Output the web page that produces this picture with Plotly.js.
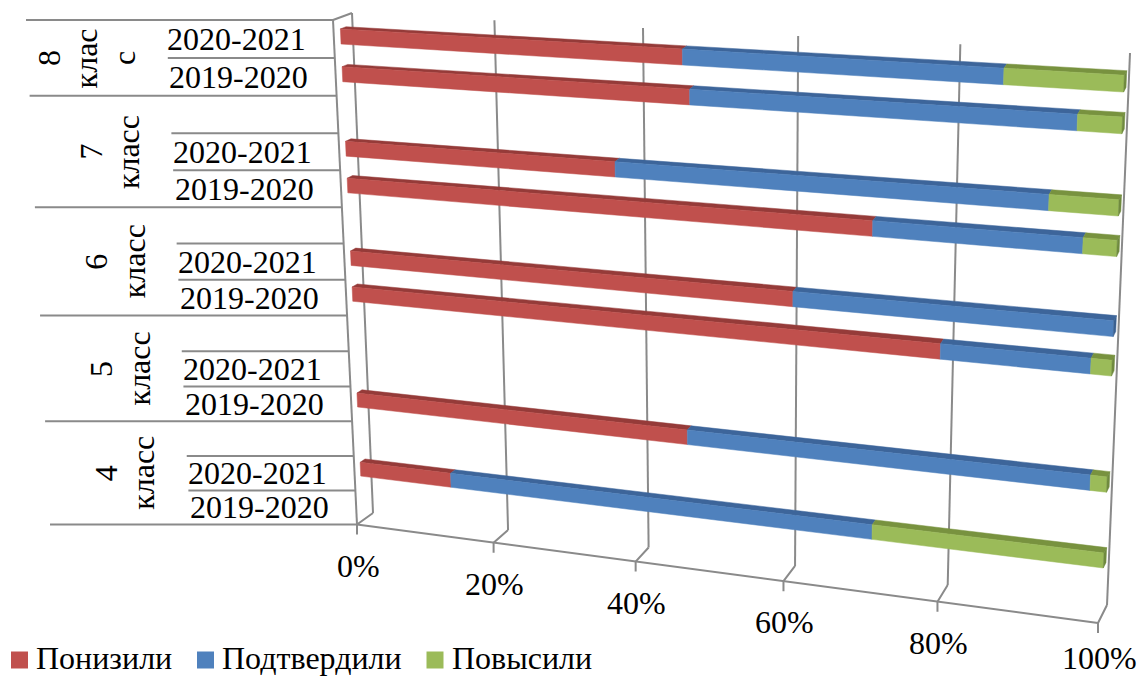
<!DOCTYPE html>
<html><head><meta charset="utf-8">
<script src="https://cdn.plot.ly/plotly-3.0.1.min.js"></script>
<style>html,body{margin:0;padding:0;background:#fff}</style>
</head><body><div id="chart" style="width:1139px;height:677px"></div>
<script>
// Data: rows run from the top of the category axis to the bottom
const classes = ['8 клас с', '7 класс', '6 класс', '5 класс', '4 класс'];
const classLines = [['8','клас','с'], ['7','класс'], ['6','класс'], ['5','класс'], ['4','класс']];
const classSizes = [2, 3, 3, 3, 3];
const rowLabels = ['2020-2021','2019-2020','','2020-2021','2019-2020','','2020-2021','2019-2020','','2020-2021','2019-2020','','2020-2021','2019-2020'];
const seriesNames = ['Понизили', 'Подтвердили', 'Повысили'];
const lowered   = [46.3, 47.2, null, 37.3, 70.5, null, 60.5, 79.2, null, null, 46.6, null, 13.3, null];
const confirmed = [39.7, 47.6, null, 54.5, 25.5, null, 39.5, 18.3, null, null, 51.4, null, 57.7, null];
const raised    = [14, 5.2, null, 8.2, 4, null, 0, 2.5, null, null, 2, null, 29, null];
const valueTicks = [0, 20, 40, 60, 80, 100];

const frontColors = ['#C0504D', '#4F81BD', '#9BBB59'];
const topColors   = ['#953B39', '#3D659A', '#78923F'];
const sideColors  = ['#8C3836', '#3A6090', '#6F8A3E'];
const axisColor = '#8A8A8A';
const FONT = 'Liberation Serif';
const FS = 32;

// perspective frame of the 3-D box, used as the scale
function quadMap(p) {
  const [p0,p1,p2,p3] = p;
  const dx1=p1[0]-p2[0], dx2=p3[0]-p2[0], sx=p0[0]-p1[0]+p2[0]-p3[0];
  const dy1=p1[1]-p2[1], dy2=p3[1]-p2[1], sy=p0[1]-p1[1]+p2[1]-p3[1];
  const den=dx1*dy2-dx2*dy1;
  const g=(sx*dy2-dx2*sy)/den, h=(dx1*sy-sx*dy1)/den;
  const a=p1[0]-p0[0]+g*p1[0], b=p3[0]-p0[0]+h*p3[0], c=p0[0];
  const d=p1[1]-p0[1]+g*p1[1], e=p3[1]-p0[1]+h*p3[1], f=p0[1];
  return (u,v)=>{const w=g*u+h*v+1;return [(a*u+b*v+c)/w,(d*u+e*v+f)/w];};
}
const frontPlane = quadMap([[333,20],[1122,68],[1098,623],[357,524.5]]);
const backPlane  = quadMap([[352,13],[1130,53],[1107,605],[373,513]]);
const nRows = rowLabels.length;
function project(pct,row,depth){
  const u=pct/100, v=row/nRows, A=frontPlane(u,v), B=backPlane(u,v);
  return [A[0]+(B[0]-A[0])*depth, A[1]+(B[1]-A[1])*depth];
}

const traces=[];
function lineTrace(segs,width){
  const x=[],y=[];
  segs.forEach(s=>{s.forEach(p=>{x.push(p[0]);y.push(p[1]);});x.push(null);y.push(null);});
  traces.push({type:'scatter',mode:'lines',x,y,line:{color:axisColor,width},hoverinfo:'skip',showlegend:false});
}
function polyTrace(polys,color,name){
  const x=[],y=[];
  polys.forEach(s=>{s.forEach(p=>{x.push(p[0]);y.push(p[1]);});x.push(s[0][0],null);y.push(s[0][1],null);});
  traces.push({type:'scatter',mode:'lines',x,y,fill:'toself',fillcolor:color,line:{color:color,width:0.5},name,hoverinfo:'name',showlegend:false});
}

// walls, gridlines, ticks
const walls=[];
valueTicks.forEach(t=>{
  walls.push([project(t,0,1),project(t,nRows,1)]);
  const f=project(t,nRows,0);
  walls.push([project(t,nRows,1),f,[f[0],f[1]+10]]);
});
walls.push([project(0,0,0),project(0,nRows,0)]);
walls.push([project(0,0,0),project(0,0,1)]);
walls.push([project(0,nRows,0),project(100,nRows,0)]);
lineTrace(walls,2);

// category ticks
const ticks=[];
const longTicks=new Set([0]);
classSizes.reduce((s,n)=>{longTicks.add(s+n);return s+n;},0);
for(let r=0;r<=nRows;r++){
  const p=project(0,r,0);
  ticks.push([p,[p[0]-(longTicks.has(r)?307:167),p[1]]]);
}
lineTrace(ticks,2);

// bars
const D0=0.36,D1=0.66,HH=0.2;
const series=[lowered,confirmed,raised];
const sidePolys=[[],[],[]];
series.forEach((vals,si)=>{
  const fronts=[],tops=[];
  vals.forEach((val,r)=>{
    if(!val) return;
    let start=0; for(let k=0;k<si;k++) start+=series[k][r];
    const end=start+val, c=r+0.5;
    fronts.push([project(start,c-HH,D0),project(end,c-HH,D0),project(end,c+HH,D0),project(start,c+HH,D0)]);
    tops.push([project(start,c-HH,D0),project(end,c-HH,D0),project(end,c-HH,D1),project(start,c-HH,D1)]);
    const later=series.slice(si+1).reduce((a,s)=>a+(s[r]||0),0);
    if(!later) sidePolys[si].push([project(end,c-HH,D0),project(end,c-HH,D1),project(end,c+HH,D1),project(end,c+HH,D0)]);
  });
  polyTrace(tops,topColors[si],seriesNames[si]);
  polyTrace(fronts,frontColors[si],seriesNames[si]);
});
series.forEach((_,si)=>{ if(sidePolys[si].length) polyTrace(sidePolys[si],sideColors[si],seriesNames[si]); });

// text
const annotations=[];
const txt=(x,y,text,extra)=>annotations.push(Object.assign({x,y,xref:'x',yref:'y',text,showarrow:false,
  xanchor:'center',yanchor:'middle',font:{family:FONT,size:FS,color:'#000'},borderpad:0},extra||{}));
rowLabels.forEach((l,r)=>{ if(!l) return; const p=project(0,r+0.5,0); txt(p[0]-97,p[1],l); });
let rowStart=0;
classLines.forEach((lines,ci)=>{
  const p=project(0,rowStart+classSizes[ci]/2,0);
  lines.forEach((line,i)=>txt(p[0]-211-37.5*(lines.length-1-i),p[1],line,{textangle:-90}));
  rowStart+=classSizes[ci];
});
valueTicks.forEach(t=>{
  const p=project(t,nRows,0);
  txt(p[0]+1,Math.min(p[1]+41,658),t+'%');
});

// legend keys
const keyX=[19.5,205.5,435], keyTextX=[35,221,451], keyY=660;
seriesNames.forEach((n,si)=>{
  traces.push({type:'scatter',mode:'markers',x:[keyX[si]],y:[keyY],name:n,
    marker:{symbol:'square',size:17,color:frontColors[si]},showlegend:false,hoverinfo:'name'});
  txt(keyTextX[si],keyY-2,n,{xanchor:'left'});
});

Plotly.newPlot('chart',traces,{
  width:1139,height:677,margin:{l:0,r:0,t:0,b:0,autoexpand:false},
  paper_bgcolor:'#fff',plot_bgcolor:'#fff',
  xaxis:{range:[0,1139],visible:false,fixedrange:true},
  yaxis:{range:[677,0],visible:false,fixedrange:true},
  annotations,showlegend:false
},{displayModeBar:false,staticPlot:true});
</script></body></html>
